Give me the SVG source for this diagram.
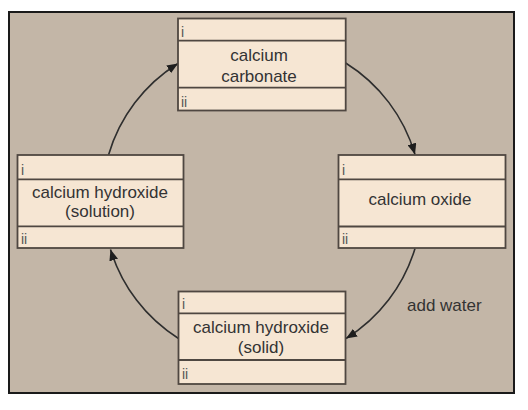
<svg xmlns="http://www.w3.org/2000/svg" width="528" height="410" viewBox="0 0 528 410">
  <style>
    .box { fill: #f6e6d3; stroke: #4f4741; stroke-width: 1.8; }
    .div { stroke: #4f4741; stroke-width: 1.8; fill: none; }
    .t { font-family: "Liberation Sans", Arial, sans-serif; font-size: 17px; fill: #333; text-anchor: middle; }
    .lbl { font-family: "Liberation Sans", Arial, sans-serif; font-size: 14px; fill: #555; }
    .conn { fill: none; stroke: #2e2e2e; stroke-width: 1.6; }
    .note { font-family: "Liberation Sans", Arial, sans-serif; font-size: 17px; fill: #333; }
  </style>
  <defs>
    <marker id="arr" markerUnits="userSpaceOnUse" markerWidth="12" markerHeight="9" refX="11" refY="4.5" orient="auto">
      <path d="M0,0 L11,4.5 L0,9 z" fill="#1e1e1e"/>
    </marker>
  </defs>
  <rect x="0" y="0" width="528" height="410" fill="#ffffff"/>
  <rect id="frame" x="9" y="12" width="505" height="381" fill="#c3b6a7" stroke="#1a1a1a" stroke-width="2"/>

  <g id="connectors">
    <path class="conn" d="M345.7,63 A161,161 0 0 1 415,154.5" marker-end="url(#arr)"/>
    <path class="conn" d="M415,248.5 A161,161 0 0 1 346,338.5" marker-end="url(#arr)"/>
    <path class="conn" d="M178.5,338.5 A161,161 0 0 1 110.5,249.5" marker-end="url(#arr)"/>
    <path class="conn" d="M108.5,155 A161,161 0 0 1 178,63.5" marker-end="url(#arr)"/>
    <text class="note" x="407" y="311">add water</text>
  </g>

  <g id="calcium-carbonate">
    <rect class="box" x="178" y="18.5" width="167.7" height="92"/>
    <line class="div" x1="178" y1="40.7" x2="345.7" y2="40.7"/>
    <line class="div" x1="178" y1="87.7" x2="345.7" y2="87.7"/>
    <text class="lbl" x="181" y="36.5">i</text>
    <text class="t" x="259" y="60.5">calcium</text>
    <text class="t" x="259" y="82">carbonate</text>
    <text class="lbl" x="181" y="106.5">ii</text>
  </g>

  <g id="calcium-oxide">
    <rect class="box" x="338.5" y="155" width="167" height="93"/>
    <line class="div" x1="338.5" y1="179.3" x2="505.5" y2="179.3"/>
    <line class="div" x1="338.5" y1="226.5" x2="505.5" y2="226.5"/>
    <text class="lbl" x="342" y="175">i</text>
    <text class="t" x="420" y="205">calcium oxide</text>
    <text class="lbl" x="342" y="243.5">ii</text>
  </g>

  <g id="calcium-hydroxide-solid">
    <rect class="box" x="178.5" y="291.5" width="167" height="92.5"/>
    <line class="div" x1="178.5" y1="313.3" x2="345.5" y2="313.3"/>
    <line class="div" x1="178.5" y1="360" x2="345.5" y2="360"/>
    <text class="lbl" x="182" y="308.5">i</text>
    <text class="t" x="261" y="333">calcium hydroxide</text>
    <text class="t" x="261" y="353">(solid)</text>
    <text class="lbl" x="182" y="378.5">ii</text>
  </g>

  <g id="calcium-hydroxide-solution">
    <rect class="box" x="17.5" y="155" width="166" height="93"/>
    <line class="div" x1="17.5" y1="179.3" x2="183.5" y2="179.3"/>
    <line class="div" x1="17.5" y1="226.3" x2="183.5" y2="226.3"/>
    <text class="lbl" x="21" y="175">i</text>
    <text class="t" x="100" y="198">calcium hydroxide</text>
    <text class="t" x="100" y="217">(solution)</text>
    <text class="lbl" x="21" y="243.5">ii</text>
  </g>
</svg>
